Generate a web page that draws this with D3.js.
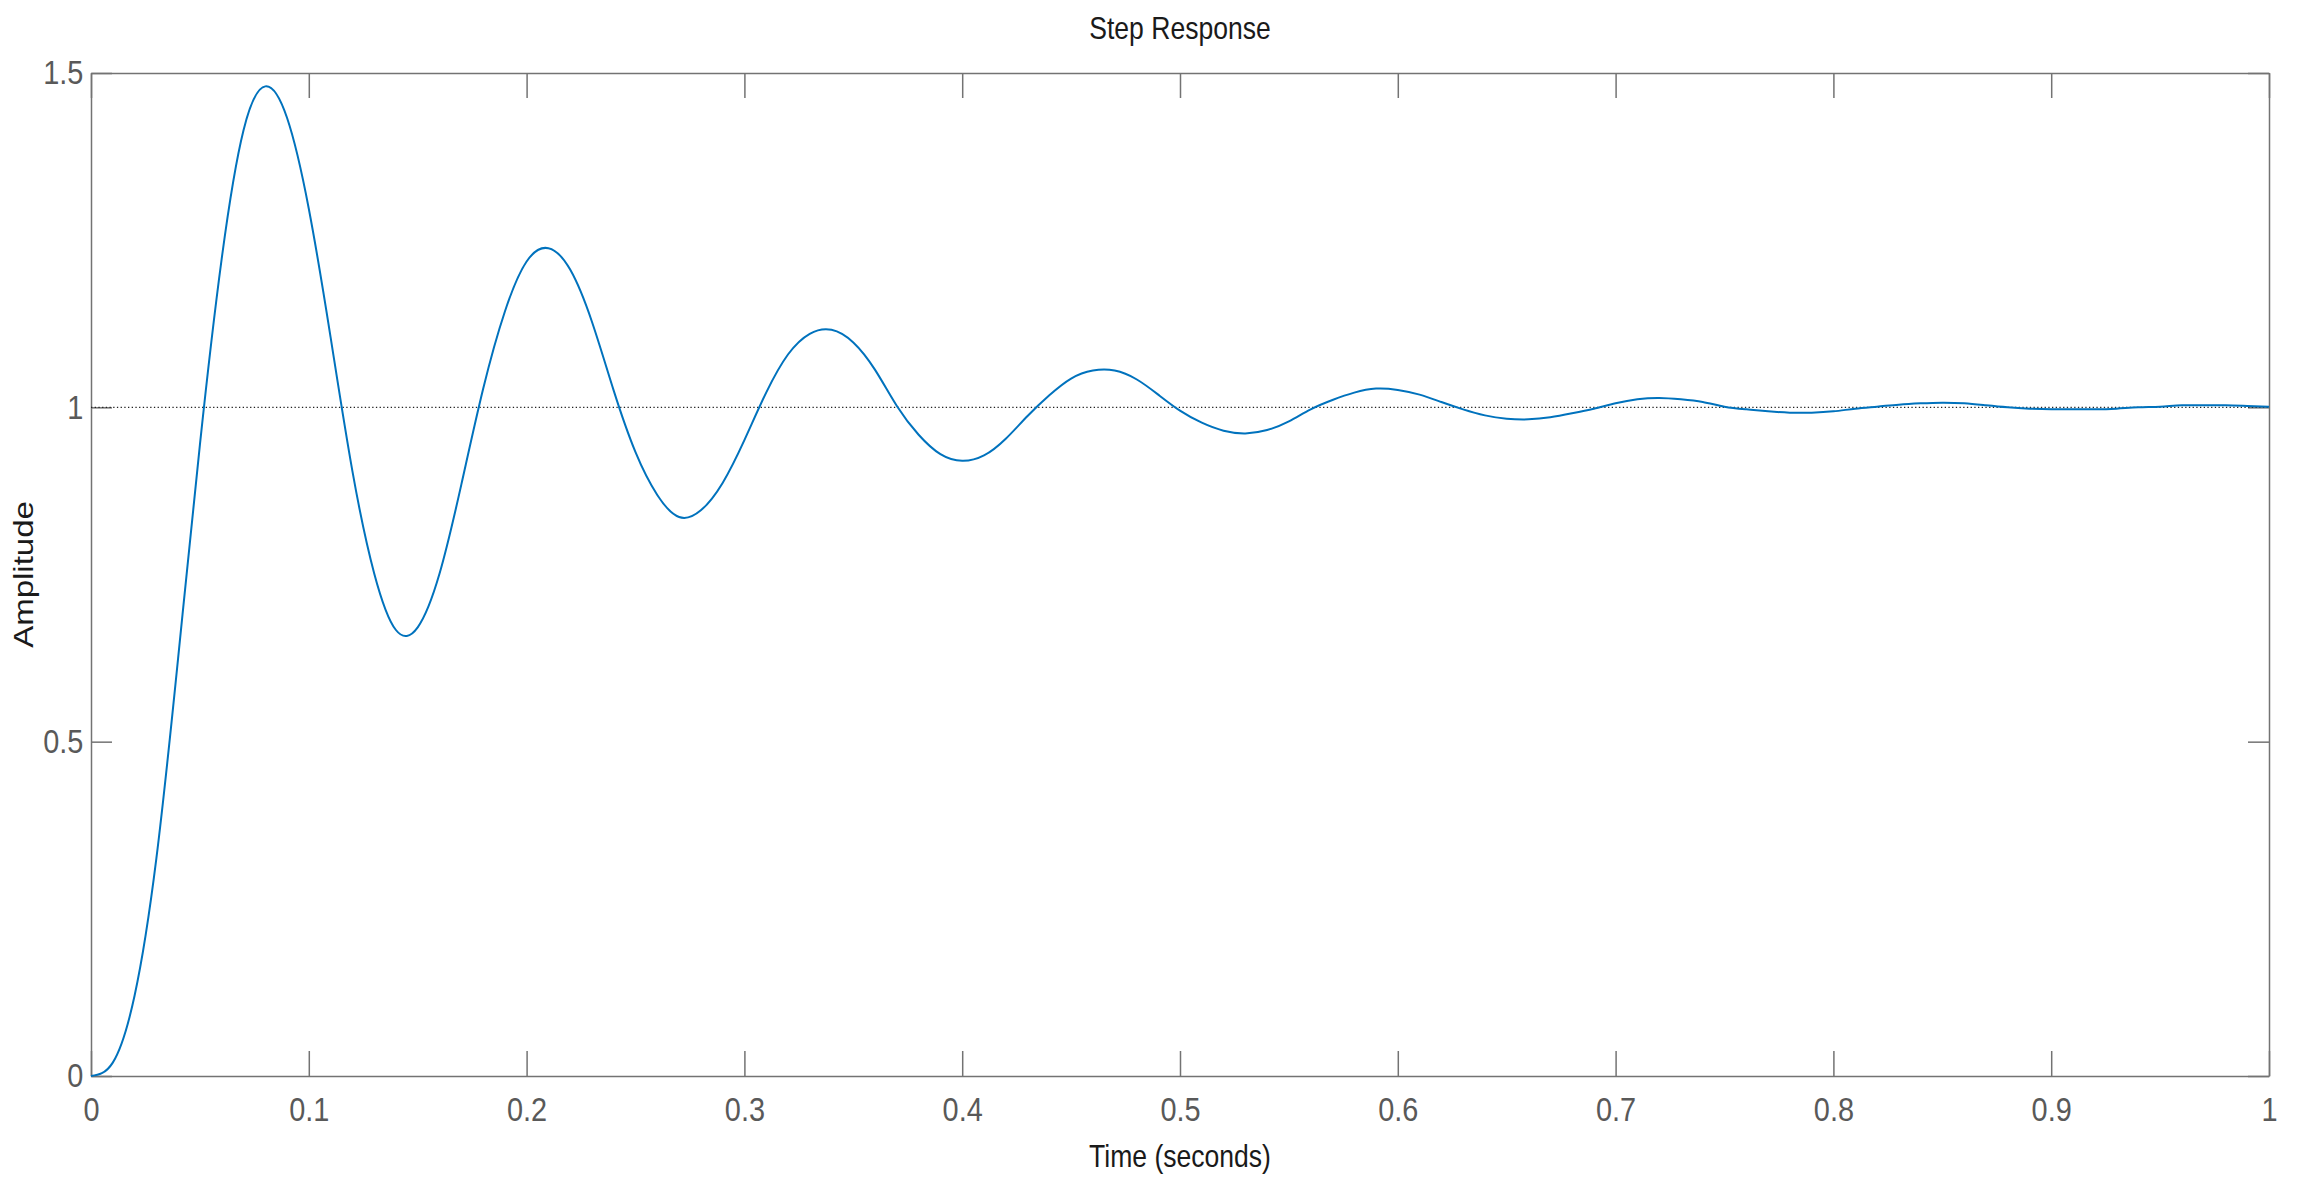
<!DOCTYPE html>
<html>
<head>
<meta charset="utf-8">
<script src="https://cdn.jsdelivr.net/npm/d3@7"></script>
<style>
  body { margin: 0; background: #fff; }
  svg { display: block; }
  text { font-family: "Liberation Sans", Arial, Helvetica, sans-serif; }
</style>
</head>
<body>
<svg></svg>
<script>
// step response, every 0.01 s
let times = [0.00, 0.01, 0.02, 0.03, 0.04, 0.05, 0.06, 0.07, 0.08, 0.09,
    0.10, 0.11, 0.12, 0.13, 0.14, 0.15, 0.16, 0.17, 0.18, 0.19,
    0.20, 0.21, 0.22, 0.23, 0.24, 0.25, 0.26, 0.27, 0.28, 0.29,
    0.30, 0.31, 0.32, 0.33, 0.34, 0.35, 0.36, 0.37, 0.38, 0.39,
    0.40, 0.41, 0.42, 0.43, 0.44, 0.45, 0.46, 0.47, 0.48, 0.49,
    0.50, 0.51, 0.52, 0.53, 0.54, 0.55, 0.56, 0.57, 0.58, 0.59,
    0.60, 0.61, 0.62, 0.63, 0.64, 0.65, 0.66, 0.67, 0.68, 0.69,
    0.70, 0.71, 0.72, 0.73, 0.74, 0.75, 0.76, 0.77, 0.78, 0.79,
    0.80, 0.81, 0.82, 0.83, 0.84, 0.85, 0.86, 0.87, 0.88, 0.89,
    0.90, 0.91, 0.92, 0.93, 0.94, 0.95, 0.96, 0.97, 0.98, 0.99, 1.00];
let amplitude = [0.000, 0.020, 0.120, 0.325, 0.625, 0.944, 1.222, 1.414, 1.480, 1.433,
    1.297, 1.105, 0.905, 0.752, 0.667, 0.671, 0.751, 0.884, 1.027, 1.143,
    1.218, 1.238, 1.206, 1.128, 1.025, 0.933, 0.869, 0.836, 0.846, 0.887,
    0.951, 1.022, 1.079, 1.110, 1.116, 1.097, 1.056, 1.002, 0.959, 0.930,
    0.920, 0.928, 0.953, 0.987, 1.018, 1.043, 1.055, 1.055, 1.042, 1.019,
    0.995, 0.977, 0.965, 0.961, 0.966, 0.979, 0.997, 1.011, 1.022, 1.028,
    1.026, 1.019, 1.008, 0.997, 0.988, 0.983, 0.982, 0.985, 0.991, 0.998,
    1.006, 1.012, 1.014, 1.012, 1.008, 1.001, 0.997, 0.994, 0.992, 0.992,
    0.994, 0.998, 1.001, 1.004, 1.006, 1.007, 1.006, 1.003, 1.000, 0.998,
    0.997, 0.997, 0.997, 0.998, 1.000, 1.001, 1.003, 1.003, 1.003, 1.002, 1.001];
let steadyState = 1;

let xTicks = [0, 0.1, 0.2, 0.3, 0.4, 0.5, 0.6, 0.7, 0.8, 0.9, 1];
let yTicks = [0, 0.5, 1, 1.5];

let width = 2299;
let height = 1191;
let plotLeft = 91, plotRight = 2269, plotTop = 73, plotBottom = 1076;

let axisColor = "#737373";
let labelColor = "#595959";

let svg = d3.select("svg").attr("width", width).attr("height", height);

let xScale = d3.scaleLinear().domain([0, 1]).range([plotLeft, plotRight]);
let yScale = d3.scaleLinear().domain([0, 1.5]).range([plotBottom, plotTop]);

let fmt = (d) => String(d);

// axes, ticks pointing in (box on all four sides)
let styleAxis = (g) => {
    g.select(".domain").attr("stroke", axisColor).attr("stroke-width", 1.5);
    g.selectAll(".tick line").attr("stroke", axisColor).attr("stroke-width", 1.5);
};

svg.append("g")
    .attr("transform", "translate(0," + plotBottom + ")")
    .call(d3.axisBottom(xScale).tickValues(xTicks).tickFormat(fmt).tickSizeInner(-25).tickSizeOuter(0).tickPadding(21))
    .call(styleAxis)
    .call(g => g.selectAll(".tick text")
        .attr("fill", labelColor)
        .style("font-size", "34px")
        .attr("transform", "scale(0.85,1)"));

svg.append("g")
    .attr("transform", "translate(0," + plotTop + ")")
    .call(d3.axisTop(xScale).tickValues(xTicks).tickFormat("").tickSizeInner(-25).tickSizeOuter(0))
    .call(styleAxis);

svg.append("g")
    .attr("transform", "translate(" + plotLeft + ",0)")
    .call(d3.axisLeft(yScale).tickValues(yTicks).tickFormat(fmt).tickSizeInner(-21).tickSizeOuter(0).tickPadding(9))
    .call(styleAxis)
    .call(g => g.selectAll(".tick text")
        .attr("fill", labelColor)
        .style("font-size", "34px")
        .attr("transform", "scale(0.85,1)"));

svg.append("g")
    .attr("transform", "translate(" + plotRight + ",0)")
    .call(d3.axisRight(yScale).tickValues(yTicks).tickFormat("").tickSizeInner(-21).tickSizeOuter(0))
    .call(styleAxis);

// steady state line
svg.append("line")
    .attr("x1", xScale(0))
    .attr("x2", xScale(1))
    .attr("y1", yScale(steadyState))
    .attr("y2", yScale(steadyState))
    .attr("stroke", "#222")
    .attr("stroke-width", 1.3)
    .attr("stroke-dasharray", "1.3,2.4");

// response curve
let points = times.map((t, i) => [t, amplitude[i]]);
let line = d3.line()
    .x(d => xScale(d[0]))
    .y(d => yScale(d[1]))
    .curve(d3.curveNatural);

svg.append("path")
    .datum(points)
    .attr("d", line)
    .attr("fill", "none")
    .attr("stroke", "#0072BD")
    .attr("stroke-width", 2);

// title and labels
svg.append("text")
    .attr("transform", "translate(" + (plotLeft + plotRight) / 2 + ",39) scale(0.83,1)")
    .attr("text-anchor", "middle")
    .attr("fill", "#1a1a1a")
    .style("font-size", "32px")
    .text("Step Response");

svg.append("text")
    .attr("transform", "translate(" + (plotLeft + plotRight) / 2 + ",1167) scale(0.83,1)")
    .attr("text-anchor", "middle")
    .attr("fill", "#1a1a1a")
    .style("font-size", "32px")
    .text("Time (seconds)");

svg.append("text")
    .attr("transform", "translate(33," + (plotTop + plotBottom) / 2 + ") scale(0.82,1) rotate(-90)")
    .attr("text-anchor", "middle")
    .attr("fill", "#1a1a1a")
    .style("font-size", "33px")
    .text("Amplitude");
</script>
</body>
</html>
